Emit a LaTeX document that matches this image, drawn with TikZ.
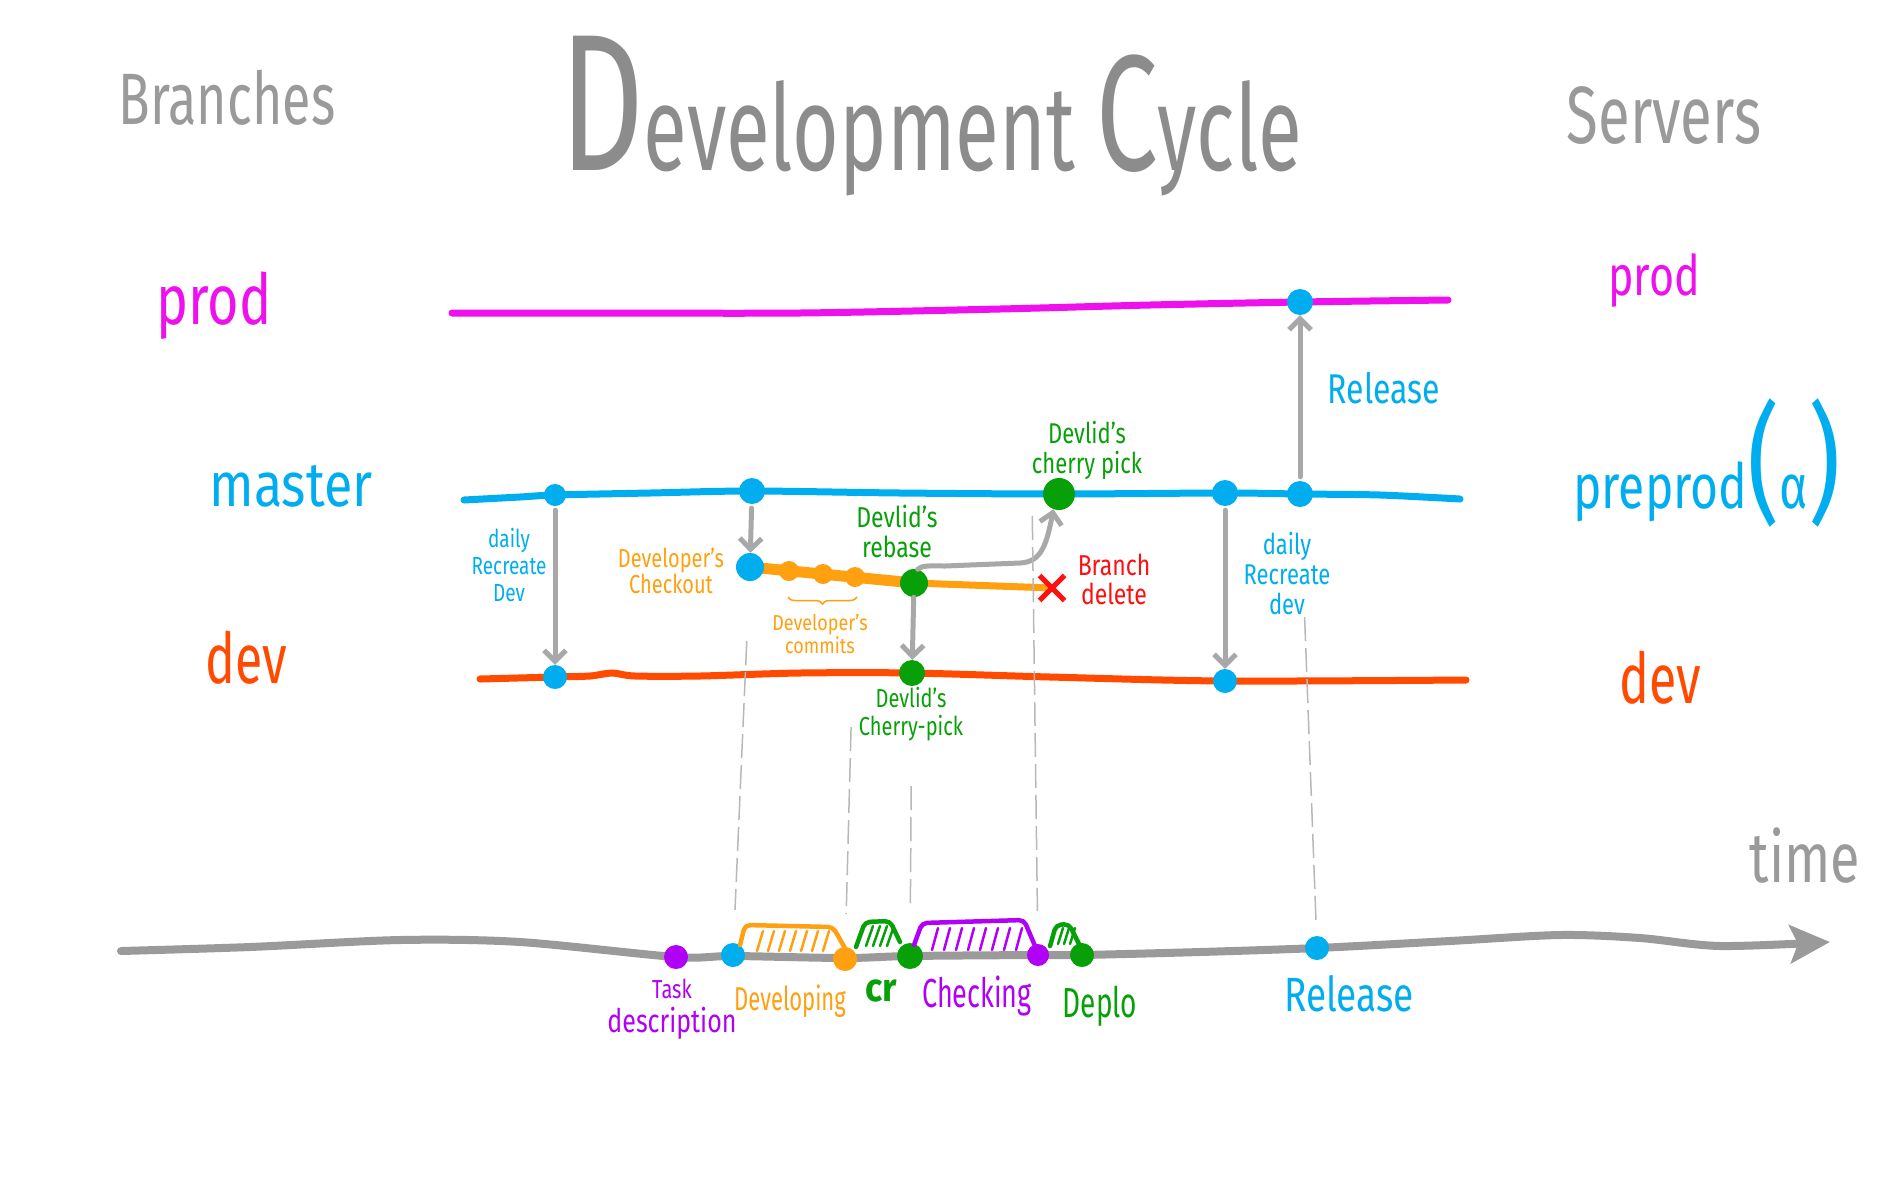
\documentclass[tikz,border=0pt]{standalone}
\usepackage{fontspec}
\setmainfont{Fira Sans}
\usetikzlibrary{arrows.meta,shapes.misc,decorations.pathreplacing}
\definecolor{cBlue}{HTML}{00AEEF}
\definecolor{cMag}{HTML}{EE11EE}
\definecolor{cDev}{HTML}{FF4A00}
\definecolor{cOrange}{HTML}{FFA010}
\definecolor{cGreen}{HTML}{08A008}
\definecolor{cPurple}{HTML}{B000F5}
\definecolor{cRed}{HTML}{FF1010}
\definecolor{cGray}{HTML}{9A9A9A}
\definecolor{cArrow}{HTML}{A8A8A8}
\definecolor{cTitle}{HTML}{8C8C8C}
\definecolor{cDash}{HTML}{B8B8B8}
\newcommand{\hw}[2][1.3]{\scalebox{1}[#1]{\begin{tabular}{@{}c@{}}#2\end{tabular}}}
\pgfdeclarelayer{bg}
\pgfsetlayers{bg,main}
\begin{document}
\begin{tikzpicture}[x=1pt,y=-1pt,
 lbl/.style={inner sep=0pt, align=center},
 fsz/.style 2 args={font=\fontsize{#1}{#2}\selectfont},
 dot/.style={circle, fill=#1, inner sep=0pt, minimum size=20pt},
 branchline/.style={line width=7pt, line cap=round},
 garrow/.style={draw=cArrow, line width=5pt, line cap=round, -{Straight Barb[length=11pt,width=22pt]}},
 vdash/.style={draw=cDash, line width=1.5pt, dash pattern=on 24pt off 7pt},
 phase/.style={line width=4.5pt, line cap=round, line join=round, rounded corners=5pt},
 hatch/.style={line width=2.5pt, line cap=round}]
\begin{pgfonlayer}{bg}
\fill[white] (0,0) rectangle (1900,1200);
\end{pgfonlayer}
\useasboundingbox (0,0) rectangle (1900,1200);

% ---------- titles ----------
\node[anchor=base west, inner sep=0pt, text=cTitle] (tTitle) at (560,170)
 {\scalebox{1}[1.5]{\fontsize{130}{130}\selectfont D\fontsize{80}{80}\selectfont evelopment \fontsize{110}{110}\selectfont C\fontsize{80}{80}\selectfont ycle}};
\node[lbl, fsz={52}{52}, text=cGray] (tBranches) at (227,108) {\hw[1.4]{Branches}};
\node[lbl, fsz={58}{58}, text=cGray] (tServers) at (1664,127) {\hw[1.4]{Servers}};

% ---------- branch names / servers ----------
\node[lbl, fsz={54}{54}, text=cMag] (tProdL) at (214,309) {\hw[1.3]{prod}};
\node[lbl, fsz={52}{52}, text=cBlue] (tMaster) at (291,494) {\hw[1.2]{master}};
\node[lbl, fsz={50}{50}, text=cDev] (tDevL) at (246,668) {\hw[1.4]{dev}};
\node[lbl, fsz={43}{43}, text=cMag] (tProdR) at (1654,283) {\hw[1.3]{prod}};
\node[anchor=base west, inner sep=0pt, text=cBlue] (tPreprod) at (1573,508)
 {\scalebox{1}[1.3]{\fontsize{48}{48}\selectfont preprod\fontsize{100}{100}\selectfont(\fontsize{48}{48}\selectfont α\fontsize{100}{100}\selectfont)}};
\node[lbl, fsz={50}{50}, text=cDev] (tDevR) at (1660,688) {\hw[1.4]{dev}};
\node[lbl, fsz={54}{54}, text=cGray] (tTime) at (1805,866) {\hw[1.3]{time}};

% ---------- branch lines ----------
\begin{pgfonlayer}{bg}
\draw[branchline, cMag] plot[smooth] coordinates {(452,313) (600,313) (800,313) (1000,309) (1150,305) (1300,302) (1448,300)};
\draw[branchline, cBlue] plot[smooth] coordinates {(464,500) (520,497) (555,495) (650,493) (752,491) (900,493) (1059,494) (1225,493) (1300,494) (1380,495) (1460,499)};
\draw[branchline, cDev] plot[smooth] coordinates {(480,679) (555,677) (590,676) (612,673) (635,676) (700,676) (800,673) (912,673) (1050,677) (1225,681) (1466,680)};
\draw[line width=8pt, line cap=round, cGray, -{Stealth[length=40pt,width=38pt,inset=8pt]}] plot[smooth] coordinates {(121,951) (250,947) (400,940) (520,942) (676,957) (733,956) (845,958) (910,956) (1038,955) (1082,955) (1200,952) (1317,948) (1450,941) (1560,935) (1640,938) (1720,946) (1830,942)};
\end{pgfonlayer}

% ---------- dots on branches ----------
\node[dot=cBlue, minimum size=26pt] (P1) at (1300,302) {};
\node[dot=cBlue, minimum size=22pt] (M1) at (555,495) {};
\node[dot=cBlue, minimum size=26pt] (M2) at (752,491) {};
\node[dot=cGreen, minimum size=32pt] (MG) at (1059,494) {};
\node[dot=cBlue, minimum size=26pt] (M3) at (1225,493) {};
\node[dot=cBlue, minimum size=26pt] (M4) at (1300,494) {};
\node[dot=cBlue, minimum size=24pt] (D1) at (555,677) {};
\node[dot=cGreen, minimum size=26pt] (DG) at (912,673) {};
\node[dot=cBlue, minimum size=24pt] (D2) at (1225,681) {};
\node[dot=cBlue, minimum size=28pt] (C) at (750,567) {};
\node[dot=cOrange, minimum size=20pt] (K1) at (789,571) {};
\node[dot=cOrange, minimum size=20pt] (K2) at (823,574) {};
\node[dot=cOrange, minimum size=20pt] (K3) at (855,577) {};
\node[dot=cGreen, minimum size=28pt] (RB) at (914,583) {};
\node[cross out, draw=cRed, line width=5pt, minimum size=20pt, inner sep=0pt] (X) at (1052,588) {};

\begin{pgfonlayer}{bg}
\draw[cOrange, line width=11pt, line cap=round] (C.center) -- (RB.center);
\draw[cOrange, line width=7pt] (RB.center) -- (X.center);
\end{pgfonlayer}

% ---------- timeline dots ----------
\node[dot=cPurple, minimum size=24pt] (TD) at (676,957) {};
\node[dot=cBlue, minimum size=24pt] (TB) at (733,955) {};
\node[dot=cOrange, minimum size=24pt] (TO) at (845,959) {};
\node[dot=cGreen, minimum size=26pt] (TG1) at (910,956) {};
\node[dot=cPurple, minimum size=22pt] (TP) at (1038,955) {};
\node[dot=cGreen, minimum size=24pt] (TG2) at (1082,955) {};
\node[dot=cBlue, minimum size=24pt] (TR) at (1317,948) {};

% ---------- phases ----------
\draw[phase, cOrange] (740,945) -- (745,925) -- (833,927) -- (850,957);
\foreach \x in {757,768,779,790,801,812,823} \draw[hatch, cOrange] (\x,951) -- (\x+6,931);
\draw[phase, cGreen] (856,947) -- (865,922) -- (890,921) -- (900,942);
\foreach \x in {866,873,880,887} \draw[hatch, cGreen] (\x,946) -- (\x+7,926);
\draw[phase, cPurple] (914,945) -- (922,923) -- (1024,920) -- (1038,953);
\foreach \x in {932,944,956,968,980,992,1004,1016} \draw[hatch, cPurple] (\x,950) -- (\x+6,928);
\draw[phase, cGreen] (1050,946) -- (1056,925) -- (1069,924) -- (1079,944);
\foreach \x in {1058,1064,1070} \draw[hatch, cGreen] (\x,944) -- (\x+5,928);

% ---------- arrows ----------
\draw[garrow, shorten <=4pt] (M1) -- (D1);
\draw[garrow, shorten <=4pt] (M2) -- (C);
\draw[garrow] (RB) -- (DG);
\coordinate (bendA) at (1020,563);
\draw[garrow] (RB.75) .. controls (922,565) and (930,566) .. (945,566) -- (bendA) .. controls (1040,562) and (1046,548) .. (MG.250);
\draw[garrow, shorten <=4pt] (M3) -- (D2);
\draw[garrow, shorten <=4pt] (M4) -- (P1);

% ---------- dashed guides ----------
\draw[vdash, shorten <=60pt, shorten >=33pt] (C) -- (TB);
\draw[vdash, shorten <=140pt, shorten >=33pt] (K3) -- (TO);
\draw[vdash, shorten <=100pt, shorten >=33pt] (DG) -- (TG1);
\draw[vdash, shorten <=22pt, shorten >=33pt] ([xshift=-27pt]MG.center) -- (TP);
\draw[vdash, shorten <=110pt, shorten >=16pt] (M4) -- (TR);

% ---------- brace ----------
\draw[cOrange, line width=1.5pt, decorate, decoration={brace, mirror, amplitude=7pt}] (788,597) -- (857,597);

% ---------- small labels ----------
\node[lbl, fsz={32}{32}, text=cBlue] (tRelTop) at (1384,394) {\hw[1.3]{Release}};
\node[lbl, fsz={19}{21}, text=cBlue] (tDailyL) at (509,569) {\hw[1.3]{daily\\Recreate\\Dev}};
\node[lbl, fsz={20}{17}, text=cOrange] (tCheckout) at (671,574) {\hw[1.3]{Developer's\\Checkout}};
\node[lbl, fsz={18}{16}, text=cOrange] (tCommits) at (820,637) {\hw[1.2]{Developer's\\commits}};
\node[lbl, fsz={23}{20}, text=cGreen] (tRebase) at (897,535) {\hw[1.25]{Devlid's\\rebase}};
\node[lbl, fsz={22}{19}, text=cGreen] (tCherryTop) at (1087,451) {\hw[1.3]{Devlid's\\cherry pick}};
\node[lbl, fsz={23}{19}, text=cRed] (tDelete) at (1114,583) {\hw[1.25]{Branch\\delete}};
\node[lbl, fsz={20}{19}, text=cGreen] (tCherryDev) at (911,715) {\hw[1.3]{Devlid's\\Cherry-pick}};
\node[lbl, fsz={22}{23}, text=cBlue] (tDailyR) at (1287,578) {\hw[1.3]{daily\\Recreate\\dev}};

% ---------- timeline labels ----------
\node[lbl, fsz={25}{22}, text=cPurple] (tTask) at (672,1010) {\hw[1.3]{{\fontsize{20}{20}\selectfont Task}\\description}};
\node[lbl, fsz={22}{22}, text=cOrange] (tDeveloping) at (790,1003) {\hw[1.5]{Developing}};
\node[lbl, fsz={36}{36}, text=cGreen] (tCR) at (881,994) {\hw[1.1]{\bfseries cr}};
\node[lbl, fsz={27}{27}, text=cPurple] (tChecking) at (977,998) {\hw[1.5]{Checking}};
\node[lbl, fsz={28}{28}, text=cGreen] (tDeplo) at (1100,1008) {\hw[1.5]{Deplo}};
\node[lbl, fsz={37}{37}, text=cBlue] (tRelBot) at (1349,1001) {\hw[1.3]{Release}};
\end{tikzpicture}
\end{document}
